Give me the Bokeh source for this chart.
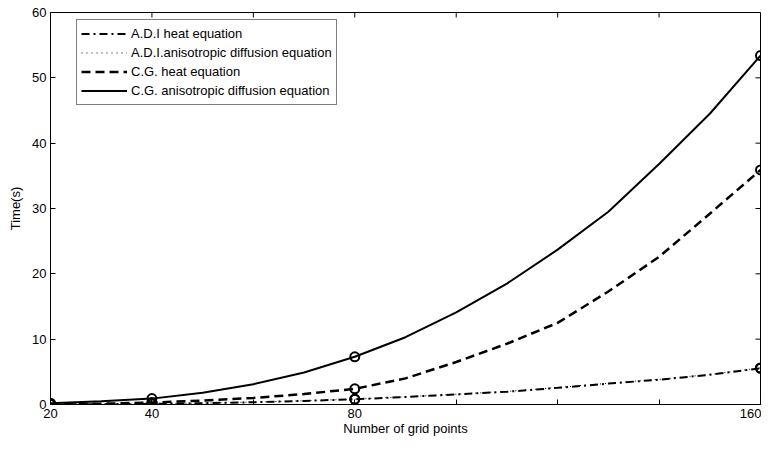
import math
from bokeh.plotting import figure
from bokeh.models import Range1d, FixedTicker, Legend, LegendItem
from bokeh.embed import file_html
from bokeh.resources import INLINE

# ---- data ----
n_curve = [20, 30, 40, 50, 60, 70, 80, 90, 100, 110, 120, 130, 140, 150, 160]
adi_heat = [0.02, 0.05, 0.1, 0.2, 0.35, 0.55, 0.8, 1.15, 1.55, 1.95, 2.55, 3.2, 3.8, 4.55, 5.55]
adi_aniso = [0.03, 0.06, 0.12, 0.22, 0.37, 0.57, 0.82, 1.18, 1.58, 2.0, 2.6, 3.25, 3.85, 4.6, 5.6]
cg_heat = [0.05, 0.12, 0.3, 0.6, 1.0, 1.6, 2.4, 4.0, 6.5, 9.3, 12.5, 17.3, 22.6, 29.2, 35.9]
cg_aniso = [0.2, 0.5, 0.9, 1.8, 3.1, 4.9, 7.3, 10.3, 14.1, 18.5, 23.7, 29.5, 36.8, 44.5, 53.4]
n_measured = [20, 40, 80, 160]

series_names = ["A.D.I heat equation", "A.D.I.anisotropic diffusion equation",
                "C.G. heat equation", "C.G. anisotropic diffusion equation"]
series_values = [adi_heat, adi_aniso, cg_heat, cg_aniso]

x_ticks = [20, 40, 60, 80, 100, 120, 140, 160]
x_tick_labels = ["20", "40", "", "80", "", "", "", "160"]
y_ticks = [0, 10, 20, 30, 40, 50, 60]
y_tick_labels = ["0", "10", "20", "30", "40", "50", "60"]
x_min, x_max = 20, 160
y_min, y_max = 0, 60

FONT = "Liberation Sans"

p = figure(width=761, height=439, output_backend="svg", toolbar_location=None,
           x_range=Range1d(x_min, x_max), y_range=Range1d(y_min, y_max),
           min_border_left=50, min_border_right=1, min_border_top=12, min_border_bottom=35)
p.grid.visible = False
p.outline_line_color = "black"
p.outline_line_width = 1
p.background_fill_color = "white"
p.border_fill_color = "white"


def style_axis(ax):
    ax.axis_line_color = "black"
    ax.axis_line_width = 1
    ax.major_tick_in = 5
    ax.major_tick_out = 0
    ax.minor_tick_line_color = None
    ax.major_tick_line_color = "black"
    ax.major_label_text_font = FONT
    ax.major_label_text_color = "black"
    ax.major_label_text_font_size = "13px"
    ax.axis_label_text_font = FONT
    ax.axis_label_text_font_size = "13px"
    ax.axis_label_text_font_style = "normal"
    ax.axis_label_text_color = "black"


xa = p.xaxis[0]
xa.ticker = FixedTicker(ticks=x_ticks, minor_ticks=[])
xa.major_label_overrides = {t: l for t, l in zip(x_ticks, x_tick_labels)}
style_axis(xa)
xa.major_label_standoff = 4
xa.axis_label = "Number of grid points"
xa.axis_label_standoff = 0

ya = p.yaxis[0]
ya.ticker = FixedTicker(ticks=y_ticks, minor_ticks=[])
ya.major_label_overrides = {t: l for t, l in zip(y_ticks, y_tick_labels)}
style_axis(ya)
ya.major_label_standoff = 4
ya.axis_label = "Time(s)"
ya.axis_label_standoff = 6

# inward ticks on the top and right edges of the box (MATLAB style)
p.ray(x=x_ticks, y=[y_max] * len(x_ticks), length=5, length_units="screen",
      angle=-math.pi / 2, line_color="black", line_width=1)
p.ray(x=[x_max] * len(y_ticks), y=y_ticks, length=5, length_units="screen",
      angle=math.pi, line_color="black", line_width=1)

styles = [
    dict(line_dash="8 4 2 4", line_width=2),
    dict(line_dash="1 4", line_width=1),
    dict(line_dash="9 5", line_width=2.5),
    dict(line_dash="solid", line_width=2),
]

items = []
for name, vals, st in zip(series_names, series_values, styles):
    r = p.line(n_curve, vals, line_color="black", **st)
    mx = [n for n in n_curve if n in n_measured]
    my = [v for n, v in zip(n_curve, vals) if n in n_measured]
    p.scatter(mx, my, marker="circle", size=9, line_color="black", line_width=2,
              fill_alpha=0)
    items.append(LegendItem(label=name, renderers=[r]))

legend = Legend(items=items, location=(26, 299))
legend.border_line_color = "black"
legend.border_line_width = 1
legend.background_fill_alpha = 1
legend.label_text_font = FONT
legend.label_text_font_size = "13px"
legend.label_text_color = "black"
legend.glyph_width = 46
legend.glyph_height = 19
legend.label_height = 19
legend.label_standoff = 4
legend.spacing = 0
legend.padding = 4
legend.margin = 0
p.add_layout(legend, "center")

open("out.html", "w").write(file_html(p, INLINE))
